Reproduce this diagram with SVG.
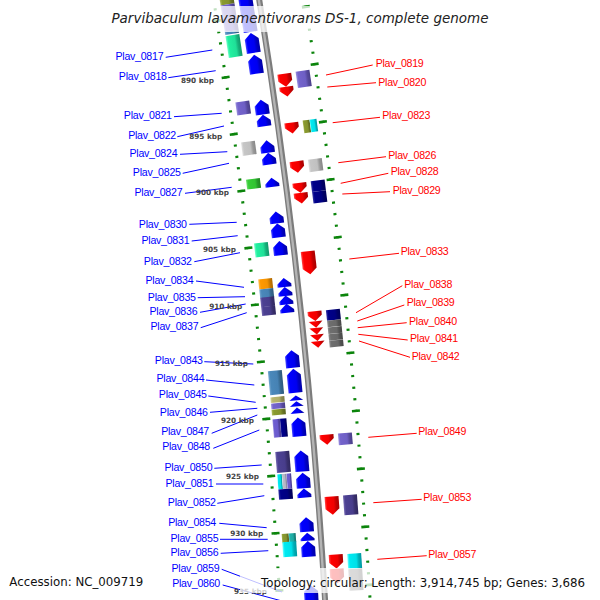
<svg xmlns="http://www.w3.org/2000/svg" width="600" height="600" viewBox="0 0 600 600">
<defs>
<linearGradient id="gB"><stop offset="0" stop-color="#4848ff"/><stop offset="0.15" stop-color="#0000ff"/><stop offset="0.62" stop-color="#0000f0"/><stop offset="0.8" stop-color="#0000c0"/><stop offset="1" stop-color="#0000a8"/></linearGradient>
<linearGradient id="gR"><stop offset="0" stop-color="#ff4848"/><stop offset="0.15" stop-color="#ff0000"/><stop offset="0.62" stop-color="#f00000"/><stop offset="0.8" stop-color="#c00000"/><stop offset="1" stop-color="#a80000"/></linearGradient>
<linearGradient id="gTe"><stop offset="0" stop-color="#70ffc8"/><stop offset="0.15" stop-color="#22f0a0"/><stop offset="0.62" stop-color="#20e098"/><stop offset="0.8" stop-color="#16b07a"/><stop offset="1" stop-color="#10986a"/></linearGradient>
<linearGradient id="gPu"><stop offset="0" stop-color="#9d92e0"/><stop offset="0.15" stop-color="#7464cc"/><stop offset="0.62" stop-color="#6e5fc4"/><stop offset="0.8" stop-color="#56499c"/><stop offset="1" stop-color="#4a3f88"/></linearGradient>
<linearGradient id="gGy"><stop offset="0" stop-color="#e2e2e2"/><stop offset="0.15" stop-color="#c6c6c6"/><stop offset="0.62" stop-color="#c0c0c0"/><stop offset="0.8" stop-color="#989898"/><stop offset="1" stop-color="#888888"/></linearGradient>
<linearGradient id="gGn"><stop offset="0" stop-color="#70e070"/><stop offset="0.15" stop-color="#36cc36"/><stop offset="0.62" stop-color="#32c432"/><stop offset="0.8" stop-color="#26982a"/><stop offset="1" stop-color="#208820"/></linearGradient>
<linearGradient id="gOl"><stop offset="0" stop-color="#b0bd60"/><stop offset="0.15" stop-color="#8a9a30"/><stop offset="0.62" stop-color="#84932e"/><stop offset="0.8" stop-color="#687424"/><stop offset="1" stop-color="#5a6420"/></linearGradient>
<linearGradient id="gCy"><stop offset="0" stop-color="#70ffff"/><stop offset="0.15" stop-color="#00eaf2"/><stop offset="0.62" stop-color="#00e0e8"/><stop offset="0.8" stop-color="#00b0b8"/><stop offset="1" stop-color="#0098a0"/></linearGradient>
<linearGradient id="gNv"><stop offset="0" stop-color="#3434a4"/><stop offset="0.15" stop-color="#00008a"/><stop offset="0.62" stop-color="#000080"/><stop offset="0.8" stop-color="#000066"/><stop offset="1" stop-color="#000058"/></linearGradient>
<linearGradient id="gOr"><stop offset="0" stop-color="#ffc050"/><stop offset="0.15" stop-color="#ff9900"/><stop offset="0.62" stop-color="#f59300"/><stop offset="0.8" stop-color="#c87800"/><stop offset="1" stop-color="#b06800"/></linearGradient>
<linearGradient id="gSt"><stop offset="0" stop-color="#7aaad2"/><stop offset="0.15" stop-color="#4a88ba"/><stop offset="0.62" stop-color="#4682b4"/><stop offset="0.8" stop-color="#36688f"/><stop offset="1" stop-color="#2e5a7c"/></linearGradient>
<linearGradient id="gDs"><stop offset="0" stop-color="#7468b0"/><stop offset="0.15" stop-color="#4c4192"/><stop offset="0.62" stop-color="#483d8b"/><stop offset="0.8" stop-color="#382f6c"/><stop offset="1" stop-color="#30285e"/></linearGradient>
<linearGradient id="gDm"><stop offset="0" stop-color="#929292"/><stop offset="0.15" stop-color="#6e6e6e"/><stop offset="0.62" stop-color="#696969"/><stop offset="0.8" stop-color="#525252"/><stop offset="1" stop-color="#484848"/></linearGradient>
<linearGradient id="gKh"><stop offset="0" stop-color="#d8d69c"/><stop offset="0.15" stop-color="#b8b66e"/><stop offset="0.62" stop-color="#b0ae68"/><stop offset="0.8" stop-color="#8c8a50"/><stop offset="1" stop-color="#7e7c48"/></linearGradient>
<linearGradient id="gLs"><stop offset="0" stop-color="#60d0c8"/><stop offset="0.15" stop-color="#22b4ac"/><stop offset="0.62" stop-color="#20aaa2"/><stop offset="0.8" stop-color="#18867f"/><stop offset="1" stop-color="#157870"/></linearGradient>
<linearGradient id="gSv"><stop offset="0" stop-color="#e2e2ec"/><stop offset="0.15" stop-color="#bcbccc"/><stop offset="0.62" stop-color="#b4b4c4"/><stop offset="0.8" stop-color="#9090a6"/><stop offset="1" stop-color="#84849a"/></linearGradient>
<linearGradient id="gSl"><stop offset="0" stop-color="#9a8fe0"/><stop offset="0.15" stop-color="#6e5ed0"/><stop offset="0.62" stop-color="#6a5acd"/><stop offset="0.8" stop-color="#5244a0"/><stop offset="1" stop-color="#4a3e90"/></linearGradient>
</defs>
<style>
.fb{fill:url(#gB)} .fr{fill:url(#gR)}
.lb{font-family:"Liberation Sans",Arial,sans-serif;font-size:10.6px;letter-spacing:-0.25px;fill:#0000ff;text-anchor:end}
.lr{font-family:"Liberation Sans",Arial,sans-serif;font-size:10.6px;letter-spacing:-0.25px;fill:#ff0000}
.kbp{font-family:"DejaVu Sans",sans-serif;font-weight:bold;font-size:7.3px;fill:#444;text-anchor:end}
.cl{stroke:#0000ff;stroke-width:1;fill:none}
.cr{stroke:#ff0000;stroke-width:1;fill:none}
.tk{fill:none;stroke:#0b840b}
</style>
<rect width="600" height="600" fill="#fff"/>

<!-- backbone -->
<g id="backbone">
<circle cx="-5781" cy="966" r="6117" fill="none" stroke="#7c7c7c" stroke-width="6"/>
<circle cx="-5781" cy="966" r="6116.6" fill="none" stroke="#b4b4b4" stroke-width="2.4"/>
</g>

<!-- ticks -->
<g id="ticks" transform="translate(-5781 966) rotate(-9.497)">
<path class="tk" d="M6072 0 A6072 6072 0 0 1 6026.3 743.5" stroke-width="3" stroke-dasharray="2.2 9.2667" stroke-dashoffset="1.1"/>
<path class="tk" d="M6072 0 A6072 6072 0 0 1 6026.3 743.5" stroke-width="8" stroke-dasharray="2.6 54.733" stroke-dashoffset="1.3"/>
<path class="tk" d="M6162 0 A6162 6162 0 0 1 6115.6 754.5" stroke-width="3" stroke-dasharray="2.2 9.4366" stroke-dashoffset="1.1"/>
<path class="tk" d="M6162 0 A6162 6162 0 0 1 6115.6 754.5" stroke-width="8" stroke-dasharray="2.6 55.583" stroke-dashoffset="1.3"/>
</g>

<!-- connectors -->
<g id="connectors">
<line class="cl" x1="165.7" y1="57.3" x2="212.3" y2="50"/>
<line class="cl" x1="168.3" y1="77.7" x2="215.7" y2="70.7"/>
<line class="cl" x1="174" y1="116.7" x2="221.7" y2="113.3"/>
<line class="cl" x1="177.3" y1="136.7" x2="224" y2="126"/>
<line class="cl" x1="180" y1="154.3" x2="227.3" y2="151.7"/>
<line class="cl" x1="182.7" y1="173.3" x2="229" y2="163.3"/>
<line class="cl" x1="185" y1="193.3" x2="231.7" y2="187.3"/>
<line class="cl" x1="189.3" y1="224.3" x2="236.7" y2="222.3"/>
<line class="cl" x1="191.7" y1="241" x2="237.7" y2="235.7"/>
<line class="cl" x1="194.3" y1="261.7" x2="240" y2="252.7"/>
<line class="cl" x1="196" y1="281" x2="244" y2="287.3"/>
<line class="cl" x1="197.7" y1="297.7" x2="245" y2="296.7"/>
<line class="cl" x1="200" y1="312.3" x2="245.7" y2="304"/>
<line class="cl" x1="200.7" y1="327.7" x2="246.7" y2="312.7"/>
<line class="cl" x1="204.3" y1="361.7" x2="253.3" y2="364"/>
<line class="cl" x1="206" y1="380" x2="254.3" y2="385"/>
<line class="cl" x1="208.3" y1="396" x2="255.7" y2="402.3"/>
<line class="cl" x1="210" y1="412.3" x2="257.3" y2="408.3"/>
<line class="cl" x1="211.7" y1="433.3" x2="257.3" y2="415"/>
<line class="cl" x1="213.3" y1="448.3" x2="259.3" y2="430"/>
<line class="cl" x1="214.3" y1="468.3" x2="261.7" y2="465"/>
<line class="cl" x1="216" y1="484" x2="263.3" y2="484"/>
<line class="cl" x1="217.3" y1="503.3" x2="264.3" y2="495.7"/>
<line class="cl" x1="219.3" y1="523.3" x2="266.7" y2="527.7"/>
<line class="cl" x1="220" y1="539.3" x2="267.7" y2="539.3"/>
<line class="cl" x1="220.7" y1="553.3" x2="268.3" y2="550.7"/>
<line class="cl" x1="221.7" y1="569.3" x2="282" y2="592"/>
<line class="cl" x1="222.7" y1="585" x2="282" y2="601"/>
<line class="cr" x1="372.7" y1="65" x2="326" y2="75"/>
<line class="cr" x1="376" y1="82.7" x2="327.3" y2="87"/>
<line class="cr" x1="380" y1="117.3" x2="332.7" y2="122.7"/>
<line class="cr" x1="386" y1="156.7" x2="338.3" y2="162.7"/>
<line class="cr" x1="388.3" y1="173.3" x2="340.7" y2="183.3"/>
<line class="cr" x1="390" y1="191.7" x2="342.3" y2="194"/>
<line class="cr" x1="399" y1="253.3" x2="349.3" y2="259"/>
<line class="cr" x1="402.3" y1="285.7" x2="356" y2="312.7"/>
<line class="cr" x1="404.3" y1="305" x2="357.3" y2="321"/>
<line class="cr" x1="406.7" y1="322.7" x2="357.7" y2="327.7"/>
<line class="cr" x1="407.7" y1="340" x2="358.3" y2="334.3"/>
<line class="cr" x1="410" y1="357.3" x2="359" y2="341"/>
<line class="cr" x1="416.7" y1="433.3" x2="368.3" y2="437.3"/>
<line class="cr" x1="421.7" y1="499.3" x2="373.3" y2="502.7"/>
<line class="cr" x1="426.7" y1="555.7" x2="377.3" y2="559.3"/>
</g>

<!-- kbp labels -->
<g id="scale-labels">
<text class="kbp" x="214" y="82.6">890 kbp</text>
<text class="kbp" x="222.3" y="138.6">895 kbp</text>
<text class="kbp" x="229" y="195.3">900 kbp</text>
<text class="kbp" x="236" y="251.9">905 kbp</text>
<text class="kbp" x="242.3" y="308.6">910 kbp</text>
<text class="kbp" x="248" y="365.9">915 kbp</text>
<text class="kbp" x="254" y="422.6">920 kbp</text>
<text class="kbp" x="259" y="479.3">925 kbp</text>
<text class="kbp" x="263.3" y="536.3">930 kbp</text>
<text class="kbp" x="267" y="593.6">935 kbp</text>
</g>

<!-- nodes -->
<g id="top_features"><g transform="translate(-5781 966)">
<rect transform="rotate(-9.178)" x="6078" y="-9" width="14" height="18" fill="url(#gOl)"/>
<rect transform="rotate(-8.966)" x="6078" y="-13.5" width="14" height="27" fill="url(#gPu)"/>
<rect transform="rotate(-8.825)" x="6078" y="-1.5" width="14" height="3" fill="url(#gSt)"/>
<polygon class="fb" transform="rotate(-9.047)" points="6096.5,26 6096.5,-20 6103.5,-26 6110.5,-20 6110.5,26"/>
</g></g>

<g id="Plav_0817"><g transform="translate(-5781 966)">
<rect transform="rotate(-8.696)" x="6078" y="-11" width="14" height="22" fill="url(#gTe)"/>
<polygon class="fb" transform="rotate(-8.698)" points="6096.5,10 6096.5,-4 6103.5,-10 6110.5,-4 6110.5,10"/>
</g><text class="lb" x="163.3" y="59.6">Plav_0817</text></g>

<g id="Plav_0818"><g transform="translate(-5781 966)">
<polygon class="fb" transform="rotate(-8.496)" points="6096.5,9.5 6096.5,-3.5 6103.5,-9.5 6110.5,-3.5 6110.5,9.5"/>
</g><text class="lb" x="166.7" y="79.6">Plav_0818</text></g>

<g id="Plav_0819"><g transform="translate(-5781 966)">
<polygon class="fr" transform="rotate(-8.307)" points="6123.5,-6.5 6137.5,-6.5 6137.5,0.5 6130.5,6.5 6123.5,0.5"/>
<rect transform="rotate(-8.295)" x="6142" y="-8.3" width="14" height="16.6" fill="url(#gPu)"/>
</g><text class="lr" x="375.7" y="66.9">Plav_0819</text></g>

<g id="Plav_0820"><g transform="translate(-5781 966)">
<polygon class="fr" transform="rotate(-8.200)" points="6123.5,-4.85 6137.5,-4.85 6137.5,-1.15 6130.5,4.85 6123.5,-1.15"/>
</g><text class="lr" x="378.3" y="85.9">Plav_0820</text></g>

<g id="Plav_0821"><g transform="translate(-5781 966)">
<rect transform="rotate(-8.106)" x="6078" y="-6.65" width="14" height="13.3" fill="url(#gPu)"/>
<polygon class="fb" transform="rotate(-8.089)" points="6096.5,7.5 6096.5,-1.5 6103.5,-7.5 6110.5,-1.5 6110.5,7.5"/>
</g><text class="lb" x="171.7" y="118.6">Plav_0821</text></g>

<g id="Plav_0822"><g transform="translate(-5781 966)">
<polygon class="fb" transform="rotate(-7.963)" points="6096.5,5.85 6096.5,0.15 6103.5,-5.85 6110.5,0.15 6110.5,5.85"/>
</g><text class="lb" x="176" y="138.6">Plav_0822</text></g>

<g id="Plav_0823"><g transform="translate(-5781 966)">
<polygon class="fr" transform="rotate(-7.856)" points="6123.5,-5.5 6137.5,-5.5 6137.5,-0.5 6130.5,5.5 6123.5,-0.5"/>
<rect transform="rotate(-7.852)" x="6142" y="-6.35" width="7" height="12.7" fill="url(#gOl)"/>
<rect transform="rotate(-7.852)" x="6149" y="-6.35" width="7" height="12.7" fill="url(#gCy)"/>
</g><text class="lr" x="382.3" y="118.6">Plav_0823</text></g>

<g id="Plav_0824"><g transform="translate(-5781 966)">
<rect transform="rotate(-7.723)" x="6078" y="-6.75" width="14" height="13.5" fill="url(#gGy)"/>
<polygon class="fb" transform="rotate(-7.716)" points="6096.5,6.3 6096.5,0.3 6103.5,-6.3 6110.5,0.3 6110.5,6.3"/>
</g><text class="lb" x="177.3" y="156.9">Plav_0824</text></g>

<g id="Plav_0825"><g transform="translate(-5781 966)">
<polygon class="fb" transform="rotate(-7.601)" points="6096.5,5.85 6096.5,0.15 6103.5,-5.85 6110.5,0.15 6110.5,5.85"/>
</g><text class="lb" x="180.7" y="175.9">Plav_0825</text></g>

<g id="Plav_0826"><g transform="translate(-5781 966)">
<polygon class="fr" transform="rotate(-7.489)" points="6123.5,-5.8 6137.5,-5.8 6137.5,-0.2 6130.5,5.8 6123.5,-0.2"/>
<rect transform="rotate(-7.484)" x="6142" y="-6.2" width="14" height="12.4" fill="url(#gGy)"/>
</g><text class="lr" x="388.3" y="158.6">Plav_0826</text></g>

<g id="Plav_0827"><g transform="translate(-5781 966)">
<rect transform="rotate(-7.386)" x="6078" y="-5" width="14" height="10" fill="url(#gGn)"/>
<polygon class="fb" transform="rotate(-7.377)" points="6096.5,4.5 6096.5,1.5 6103.5,-4.5 6110.5,1.5 6110.5,4.5"/>
</g><text class="lb" x="182.3" y="195.9">Plav_0827</text></g>

<g id="Plav_0828"><g transform="translate(-5781 966)">
<polygon class="fr" transform="rotate(-7.293)" points="6123.5,-5 6137.5,-5 6137.5,-1 6130.5,5 6123.5,-1"/>
<rect transform="rotate(-7.290)" x="6142" y="-5.35" width="14" height="10.7" fill="url(#gNv)"/>
</g><text class="lr" x="390.7" y="175.3">Plav_0828</text></g>

<g id="Plav_0829"><g transform="translate(-5781 966)">
<polygon class="fr" transform="rotate(-7.195)" points="6123.5,-5.35 6137.5,-5.35 6137.5,-0.65 6130.5,5.35 6123.5,-0.65"/>
<rect transform="rotate(-7.185)" x="6142" y="-5.8" width="14" height="11.6" fill="url(#gNv)"/>
</g><text class="lr" x="392.7" y="193.6">Plav_0829</text></g>

<g id="Plav_0830"><g transform="translate(-5781 966)">
<polygon class="fb" transform="rotate(-7.044)" points="6096.5,6 6096.5,0 6103.5,-6 6110.5,0 6110.5,6"/>
</g><text class="lb" x="186.7" y="227.6">Plav_0830</text></g>

<g id="Plav_0831"><g transform="translate(-5781 966)">
<polygon class="fb" transform="rotate(-6.922)" points="6096.5,7 6096.5,-1 6103.5,-7 6110.5,-1 6110.5,7"/>
</g><text class="lb" x="189.3" y="243.6">Plav_0831</text></g>

<g id="Plav_0832"><g transform="translate(-5781 966)">
<rect transform="rotate(-6.760)" x="6078" y="-7" width="14" height="14" fill="url(#gTe)"/>
<polygon class="fb" transform="rotate(-6.754)" points="6096.5,7.15 6096.5,-1.15 6103.5,-7.15 6110.5,-1.15 6110.5,7.15"/>
</g><text class="lb" x="191.7" y="264.6">Plav_0832</text></g>

<g id="Plav_0833"><g transform="translate(-5781 966)">
<polygon class="fr" transform="rotate(-6.587)" points="6123.5,-11.65 6137.5,-11.65 6137.5,5.65 6130.5,11.65 6123.5,5.65"/>
</g><text class="lr" x="400.7" y="255.3">Plav_0833</text></g>

<g id="Plav_0834"><g transform="translate(-5781 966)">
<rect transform="rotate(-6.437)" x="6078" y="-5" width="14" height="10" fill="url(#gOr)"/>
<polygon class="fb" transform="rotate(-6.430)" points="6096.5,4.5 6096.5,1.5 6103.5,-4.5 6110.5,1.5 6110.5,4.5"/>
</g><text class="lb" x="193.3" y="283.6">Plav_0834</text></g>

<g id="Plav_0835"><g transform="translate(-5781 966)">
<rect transform="rotate(-6.347)" x="6078" y="-4.5" width="14" height="9" fill="url(#gSt)"/>
<polygon class="fb" transform="rotate(-6.344)" points="6096.5,4.5 6096.5,1.5 6103.5,-4.5 6110.5,1.5 6110.5,4.5"/>
</g><text class="lb" x="195.7" y="300.9">Plav_0835</text></g>

<g id="Plav_0836"><g transform="translate(-5781 966)">
<rect transform="rotate(-6.267)" x="6078" y="-4.7" width="14" height="9.4" fill="url(#gDs)"/>
<polygon class="fb" transform="rotate(-6.265)" points="6096.5,4.5 6096.5,1.5 6103.5,-4.5 6110.5,1.5 6110.5,4.5"/>
</g><text class="lb" x="197.3" y="314.6">Plav_0836</text></g>

<g id="Plav_0837"><g transform="translate(-5781 966)">
<rect transform="rotate(-6.181)" x="6078" y="-4.5" width="14" height="9" fill="url(#gDs)"/>
<polygon class="fb" transform="rotate(-6.186)" points="6096.5,4.5 6096.5,1.5 6103.5,-4.5 6110.5,1.5 6110.5,4.5"/>
</g><text class="lb" x="198.3" y="330.3">Plav_0837</text></g>

<g id="Plav_0838"><g transform="translate(-5781 966)">
<polygon class="fr" transform="rotate(-6.085)" points="6123.5,-5 6137.5,-5 6137.5,-1 6130.5,5 6123.5,-1"/>
<rect transform="rotate(-6.080)" x="6142" y="-5.35" width="14" height="10.7" fill="url(#gNv)"/>
</g><text class="lr" x="404.3" y="287.6">Plav_0838</text></g>

<g id="Plav_0839"><g transform="translate(-5781 966)">
<polygon class="fr" transform="rotate(-6.007)" points="6123.5,-3.3 6137.5,-3.3 6130.5,3.3"/>
<rect transform="rotate(-6.000)" x="6142" y="-3.3" width="14" height="6.6" fill="url(#gDm)"/>
</g><text class="lr" x="406.7" y="306.3">Plav_0839</text></g>

<g id="Plav_0840"><g transform="translate(-5781 966)">
<polygon class="fr" transform="rotate(-5.944)" points="6123.5,-3.3 6137.5,-3.3 6130.5,3.3"/>
<rect transform="rotate(-5.936)" x="6142" y="-3.3" width="14" height="6.6" fill="url(#gDm)"/>
</g><text class="lr" x="409" y="324.6">Plav_0840</text></g>

<g id="Plav_0841"><g transform="translate(-5781 966)">
<polygon class="fr" transform="rotate(-5.882)" points="6123.5,-3.3 6137.5,-3.3 6130.5,3.3"/>
<rect transform="rotate(-5.874)" x="6142" y="-3.3" width="14" height="6.6" fill="url(#gDm)"/>
</g><text class="lr" x="410" y="341.9">Plav_0841</text></g>

<g id="Plav_0842"><g transform="translate(-5781 966)">
<polygon class="fr" transform="rotate(-5.818)" points="6123.5,-3.3 6137.5,-3.3 6130.5,3.3"/>
<rect transform="rotate(-5.811)" x="6142" y="-3.3" width="14" height="6.6" fill="url(#gDm)"/>
</g><text class="lr" x="411.7" y="359.6">Plav_0842</text></g>

<g id="Plav_0843"><g transform="translate(-5781 966)">
<polygon class="fb" transform="rotate(-5.708)" points="6096.5,8.8 6096.5,-2.8 6103.5,-8.8 6110.5,-2.8 6110.5,8.8"/>
</g><text class="lb" x="202.7" y="364.3">Plav_0843</text></g>

<g id="Plav_0844"><g transform="translate(-5781 966)">
<rect transform="rotate(-5.502)" x="6078" y="-12" width="14" height="24" fill="url(#gSt)"/>
<polygon class="fb" transform="rotate(-5.502)" points="6096.5,12 6096.5,-6 6103.5,-12 6110.5,-6 6110.5,12"/>
</g><text class="lb" x="204.3" y="381.9">Plav_0844</text></g>

<g id="Plav_0845"><g transform="translate(-5781 966)">
<rect transform="rotate(-5.341)" x="6078" y="-2.85" width="14" height="5.7" fill="url(#gKh)"/>
<polygon class="fb" transform="rotate(-5.340)" points="6096.5,2.5 6103.5,-2.5 6110.5,2.5"/>
</g><text class="lb" x="206.7" y="397.9">Plav_0845</text></g>

<g id="Plav_0846"><g transform="translate(-5781 966)">
<rect transform="rotate(-5.282)" x="6078" y="-2.85" width="14" height="5.7" fill="url(#gPu)"/>
<polygon class="fb" transform="rotate(-5.285)" points="6096.5,2.5 6103.5,-2.5 6110.5,2.5"/>
</g><text class="lb" x="207.7" y="415.9">Plav_0846</text></g>

<g id="Plav_0847"><g transform="translate(-5781 966)">
<rect transform="rotate(-5.224)" x="6078" y="-2.85" width="14" height="5.7" fill="url(#gOl)"/>
<polygon class="fb" transform="rotate(-5.222)" points="6096.5,3 6103.5,-3 6110.5,3"/>
</g><text class="lb" x="209" y="435.3">Plav_0847</text></g>

<g id="Plav_0848"><g transform="translate(-5781 966)">
<rect transform="rotate(-5.073)" x="6078" y="-9.15" width="7.5" height="18.3" fill="url(#gSl)"/>
<rect transform="rotate(-5.073)" x="6085.5" y="-9.15" width="6.5" height="18.3" fill="url(#gNv)"/>
<polygon class="fb" transform="rotate(-5.067)" points="6096.5,9.5 6096.5,-3.5 6103.5,-9.5 6110.5,-3.5 6110.5,9.5"/>
</g><text class="lb" x="210" y="450.3">Plav_0848</text></g>

<g id="Plav_0849"><g transform="translate(-5781 966)">
<polygon class="fr" transform="rotate(-4.925)" points="6123.5,-5 6137.5,-5 6137.5,-1 6130.5,5 6123.5,-1"/>
<rect transform="rotate(-4.918)" x="6142" y="-5.85" width="14" height="11.7" fill="url(#gPu)"/>
</g><text class="lr" x="418.3" y="435.3">Plav_0849</text></g>

<g id="Plav_0850"><g transform="translate(-5781 966)">
<rect transform="rotate(-4.752)" x="6078" y="-10.5" width="14" height="21" fill="url(#gDs)"/>
<polygon class="fb" transform="rotate(-4.746)" points="6096.5,10.5 6096.5,-4.5 6103.5,-10.5 6110.5,-4.5 6110.5,10.5"/>
</g><text class="lb" x="212.3" y="470.6">Plav_0850</text></g>

<g id="Plav_0851"><g transform="translate(-5781 966)">
<rect transform="rotate(-4.568)" x="6078" y="-7.5" width="4.7" height="15" fill="url(#gCy)"/>
<rect transform="rotate(-4.568)" x="6082.7" y="-7.5" width="4.6" height="15" fill="url(#gSv)"/>
<rect transform="rotate(-4.568)" x="6087.3" y="-7.5" width="4.7" height="15" fill="url(#gSl)"/>
<polygon class="fb" transform="rotate(-4.562)" points="6096.5,7.75 6096.5,-1.75 6103.5,-7.75 6110.5,-1.75 6110.5,7.75"/>
</g><text class="lb" x="213.3" y="486.9">Plav_0851</text></g>

<g id="Plav_0852"><g transform="translate(-5781 966)">
<rect transform="rotate(-4.448)" x="6078" y="-5.15" width="14" height="10.3" fill="url(#gNv)"/>
<polygon class="fb" transform="rotate(-4.444)" points="6096.5,4.6 6096.5,1.4 6103.5,-4.6 6110.5,1.4 6110.5,4.6"/>
</g><text class="lb" x="215.7" y="505.9">Plav_0852</text></g>

<g id="Plav_0853"><g transform="translate(-5781 966)">
<polygon class="fr" transform="rotate(-4.306)" points="6123.5,-9.15 6137.5,-9.15 6137.5,3.15 6130.5,9.15 6123.5,3.15"/>
<rect transform="rotate(-4.301)" x="6142" y="-10" width="14" height="20" fill="url(#gDs)"/>
</g><text class="lr" x="423.3" y="500.9">Plav_0853</text></g>

<g id="Plav_0854"><g transform="translate(-5781 966)">
<polygon class="fb" transform="rotate(-4.148)" points="6096.5,7.2 6096.5,-1.2 6103.5,-7.2 6110.5,-1.2 6110.5,7.2"/>
</g><text class="lb" x="216" y="525.9">Plav_0854</text></g>

<g id="Plav_0855"><g transform="translate(-5781 966)">
<rect transform="rotate(-4.032)" x="6078" y="-4.7" width="7" height="9.4" fill="url(#gOl)"/>
<rect transform="rotate(-4.032)" x="6085" y="-4.7" width="7" height="9.4" fill="url(#gLs)"/>
<polygon class="fb" transform="rotate(-4.032)" points="6096.5,4 6096.5,2 6103.5,-4 6110.5,2 6110.5,4"/>
</g><text class="lb" x="218.3" y="541.9">Plav_0855</text></g>

<g id="Plav_0856"><g transform="translate(-5781 966)">
<rect transform="rotate(-3.927)" x="6078" y="-7.5" width="14" height="15" fill="url(#gCy)"/>
<polygon class="fb" transform="rotate(-3.918)" points="6096.5,7.85 6096.5,-1.85 6103.5,-7.85 6110.5,-1.85 6110.5,7.85"/>
</g><text class="lb" x="218.3" y="556.3">Plav_0856</text></g>

<g id="Plav_0857"><g transform="translate(-5781 966)">
<polygon class="fr" transform="rotate(-3.783)" points="6123.5,-7 6137.5,-7 6137.5,1 6130.5,7 6123.5,1"/>
<rect transform="rotate(-3.776)" x="6142" y="-7.5" width="14" height="15" fill="url(#gCy)"/>
</g><text class="lr" x="428.3" y="557.6">Plav_0857</text></g>

<g id="bottom_features"><g transform="translate(-5781 966)">
<polygon class="fr" transform="rotate(-3.647)" points="6123.5,-7.25 6137.5,-7.25 6137.5,1.25 6130.5,7.25 6123.5,1.25"/>
<rect transform="rotate(-3.603)" x="6142" y="-10.85" width="14" height="21.7" fill="url(#gDm)"/>
</g></g>

<g id="Plav_0859"><text class="lb" x="219.3" y="571.9">Plav_0859</text></g>

<g id="Plav_0860"><g transform="translate(-5781 966)">
<polygon class="fb" transform="rotate(-3.459)" points="6096.5,12.5 6096.5,-6.5 6103.5,-12.5 6110.5,-6.5 6110.5,12.5"/>
</g><text class="lb" x="220" y="586.9">Plav_0860</text></g>

<!-- fade boxes and captions -->
<rect x="104" y="6" width="392" height="26" fill="#fff" fill-opacity="0.75"/>
<rect x="240" y="568" width="360" height="25" fill="#fff" fill-opacity="0.75"/>
<text x="300" y="22.5" font-family="'DejaVu Sans',sans-serif" font-style="italic" font-size="13.5" text-anchor="middle" fill="#222">Parvibaculum lavamentivorans DS-1, complete genome</text>
<text x="9.3" y="586.3" font-family="'DejaVu Sans',sans-serif" font-size="11.8" fill="#111">Accession: NC_009719</text>
<text x="261" y="586.7" font-family="'DejaVu Sans',sans-serif" font-size="11.8" fill="#111">Topology: circular; Length: 3,914,745 bp; Genes: 3,686</text>
</svg>
